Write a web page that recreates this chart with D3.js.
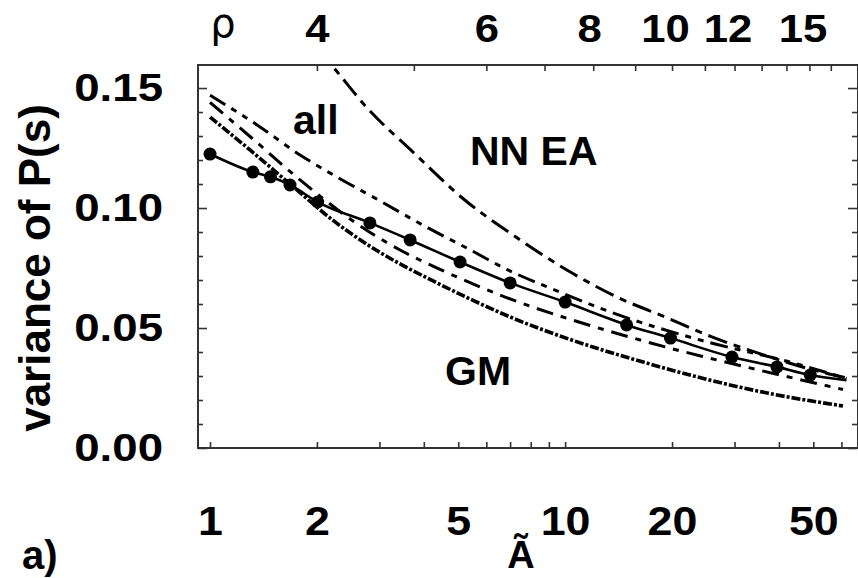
<!DOCTYPE html>
<html>
<head>
<meta charset="utf-8">
<script src="https://cdn.jsdelivr.net/npm/d3@7"></script>
<style>
  html, body { margin: 0; padding: 0; background: #fff; }
  svg { display: block; }
  text { font-family: "Liberation Sans", Arial, Helvetica, sans-serif; font-weight: bold; fill: #000; }
</style>
</head>
<body>
<svg id="chart" width="858" height="578"></svg>
<script>
// measured spacing variance (filled circles) versus Ã
const sampleA   = [1, 1.32, 1.48, 1.68, 2.01, 2.82, 3.66, 5.06, 7.0, 10.0, 14.9, 19.8, 29.5, 39.5, 49.0];
const sampleVar = [0.1225, 0.115, 0.113, 0.1096, 0.1025, 0.0938, 0.0867, 0.0775, 0.0688, 0.0608, 0.0513, 0.0458, 0.0379, 0.0338, 0.0304];

// solid line through the measured points
const fitA   = [1, 1.32, 1.48, 1.68, 2.01, 2.82, 3.66, 5.06, 7.0, 10.0, 14.9, 19.8, 29.5, 39.5, 49.0, 62];
const fitVar = [0.1225, 0.115, 0.113, 0.1096, 0.1025, 0.0938, 0.0867, 0.0775, 0.0688, 0.0608, 0.0513, 0.0458, 0.0379, 0.0338, 0.0304, 0.0283];

// NN curve (steep, long-short dashes)
const nnA   = [2.0, 2.22, 2.77, 3.73, 5.3, 6.87, 10.46, 14.0, 19.4, 25.9, 36.2, 50, 62];
const nnVar = [0.1665, 0.1588, 0.1417, 0.1233, 0.1025, 0.0904, 0.0729, 0.0629, 0.0542, 0.0463, 0.0388, 0.0325, 0.0292];

// "all" curve (long-short-short dashes)
const allA   = [1, 1.383, 1.793, 2.28, 3.05, 4.11, 5.29, 6.9, 9.37, 13.4, 24.0, 43.0, 62];
const allVar = [0.147, 0.1338, 0.1221, 0.1129, 0.1025, 0.0917, 0.0833, 0.0742, 0.0658, 0.0567, 0.045, 0.0358, 0.029];

// EA curve (dashed, just under the measured points)
const eaA   = [1, 1.296, 1.793, 2.70, 3.43, 4.59, 6.78, 10.5, 14.5, 20.1, 25.1, 60.6];
const eaVar = [0.144, 0.1298, 0.1117, 0.0917, 0.0825, 0.0735, 0.0629, 0.0533, 0.0471, 0.0413, 0.0377, 0.0244];

// GM curve (lowest, dense dash-dot)
const gmA   = [1, 1.296, 1.68, 2.25, 2.786, 3.43, 4.25, 5.40, 7.0, 9.67, 11.97, 16.6, 23.0, 37.1, 60.6];
const gmVar = [0.1379, 0.1242, 0.110, 0.0942, 0.0846, 0.0767, 0.0696, 0.0621, 0.0546, 0.0467, 0.0421, 0.0358, 0.030, 0.0229, 0.0175];

// axis ticks
const bottomTicks  = [1, 2, 3, 4, 5, 6, 7, 8, 9, 10, 20, 30, 40, 50, 60];
const bottomLabels = [1, 2, 5, 10, 20, 50];
const rhoTicks     = [4, 5, 6, 7, 8, 9, 10, 11, 12, 13, 14, 15, 16];
const rhoLabels    = [4, 6, 8, 10, 12, 15];
const yMajor       = [0, 0.05, 0.10, 0.15];
const yMinor       = [0.01, 0.02, 0.03, 0.04, 0.06, 0.07, 0.08, 0.09, 0.11, 0.12, 0.13, 0.14];

// ρ and Ã are tied by Ã = ρ(ρ − 2) / 4
const rhoToA = r => r * (r - 2) / 4;

const svg = d3.select("#chart");
const L = 198, R = 858, T = 65, B = 448;

const x = d3.scaleLog().domain([0.925, 66.8]).range([L, R]);
const y = d3.scaleLinear().domain([0, 0.1596]).range([B, T]);

svg.append("defs").append("clipPath").attr("id", "plotClip")
  .append("rect").attr("x", L).attr("y", T).attr("width", R - L).attr("height", B - T);

const plot = svg.append("g").attr("clip-path", "url(#plotClip)");

const line = d3.line().x(d => x(d[0])).y(d => y(d[1])).curve(d3.curveMonotoneX);
const zip = (a, b) => a.map((v, i) => [v, b[i]]);

const curves = [
  { pts: zip(nnA, nnVar),   dash: "20,7,7,7",       w: 3 },
  { pts: zip(allA, allVar), dash: "18,7,6,7,6,7",   w: 3 },
  { pts: zip(eaA, eaVar),   dash: "17,8,6,8",       w: 3 },
  { pts: zip(gmA, gmVar),   dash: "9,2,3,2",        w: 3.6 },
  { pts: zip(fitA, fitVar), dash: null,             w: 2.6 }
];

curves.forEach(c => {
  const p = plot.append("path")
    .attr("d", line(c.pts))
    .attr("fill", "none")
    .attr("stroke", "#000")
    .attr("stroke-width", c.w)
    .attr("stroke-linecap", "butt");
  if (c.dash) p.attr("stroke-dasharray", c.dash);
});

plot.selectAll("circle.pt").data(zip(sampleA, sampleVar)).enter()
  .append("circle").attr("class", "pt")
  .attr("cx", d => x(d[0])).attr("cy", d => y(d[1])).attr("r", 6.5)
  .attr("fill", "#000");

// frame
svg.append("rect").attr("x", L).attr("y", T).attr("width", R - L).attr("height", B - T)
  .attr("fill", "none").attr("stroke", "#333").attr("stroke-width", 2);

const tickStyle = g => {
  g.select(".domain").remove();
  g.selectAll(".tick line").attr("stroke", "#333").attr("stroke-width", 1.6);
};

// widen the tick numerals horizontally
const stretch = sx => g => {
  g.selectAll(".tick text").each(function () {
    const t = d3.select(this);
    const tx = (+t.attr("x") || 0) + (+t.attr("data-dx") || 0), ty = +t.attr("y") || 0;
    t.attr("x", 0).attr("y", 0)
     .attr("transform", `translate(${tx},${ty}) scale(${sx},1)`);
  });
};

// bottom axis (Ã)
svg.append("g").attr("transform", `translate(0,${B})`)
  .call(d3.axisBottom(x).tickValues(bottomTicks).tickSizeInner(-6).tickSizeOuter(0).tickPadding(87)
        .tickFormat(d => bottomLabels.includes(d) ? d3.format("d")(d) : ""))
  .call(tickStyle)
  .call(g => g.selectAll(".tick text").attr("font-size", 40).attr("dy", "0em"))
  .call(stretch(1.12));

// top axis (ρ)
svg.append("g").attr("transform", `translate(0,${T})`)
  .call(d3.axisTop(x).tickValues(rhoTicks.map(rhoToA)).tickSizeInner(-6).tickSizeOuter(0).tickPadding(23)
        .tickFormat((d, i) => rhoLabels.includes(rhoTicks[i]) ? String(rhoTicks[i]) : ""))
  .call(tickStyle)
  .call(g => g.selectAll(".tick text")
    .attr("font-size", 39)
    .attr("data-dx", (d, i) => rhoTicks[i] >= 10 ? -7 : (rhoTicks[i] === 8 ? -4 : 0)))
  .call(stretch(1.12));

// left axis
svg.append("g").attr("transform", `translate(${L},0)`)
  .call(d3.axisLeft(y).tickValues(yMajor).tickSizeInner(-9).tickSizeOuter(0).tickPadding(35)
        .tickFormat(d3.format(".2f")))
  .call(tickStyle)
  .call(g => g.selectAll(".tick text").attr("font-size", 38))
  .call(stretch(1.2));
svg.append("g").attr("transform", `translate(${L},0)`)
  .call(d3.axisLeft(y).tickValues(yMinor).tickSizeInner(-5).tickSizeOuter(0).tickFormat(""))
  .call(tickStyle);

// right axis
svg.append("g").attr("transform", `translate(${R - 1},0)`)
  .call(d3.axisRight(y).tickValues(yMajor).tickSizeInner(-9).tickSizeOuter(0).tickFormat(""))
  .call(tickStyle);
svg.append("g").attr("transform", `translate(${R - 1},0)`)
  .call(d3.axisRight(y).tickValues(yMinor).tickSizeInner(-5).tickSizeOuter(0).tickFormat(""))
  .call(tickStyle);

// titles and curve labels
svg.append("text").attr("transform", "translate(50,268) rotate(-90)")
  .attr("text-anchor", "middle").attr("font-size", 44).text("variance of P(s)");

svg.append("text").attr("x", 223).attr("y", 37).attr("text-anchor", "middle")
  .style("font-family", "'DejaVu Sans', sans-serif").style("font-weight", "normal")
  .attr("font-size", 40).text("ρ");

svg.append("text").attr("x", 521).attr("y", 568).attr("text-anchor", "middle")
  .attr("font-size", 38).text("Ã");
svg.append("text").attr("x", 22).attr("y", 569).attr("font-size", 40).text("a)");

svg.append("text").attr("x", 293).attr("y", 134).attr("font-size", 41).text("all");
svg.append("text").attr("x", 470).attr("y", 165).attr("font-size", 41).text("NN EA");
svg.append("text").attr("x", 445).attr("y", 385).attr("font-size", 41).text("GM");
</script>
</body>
</html>
